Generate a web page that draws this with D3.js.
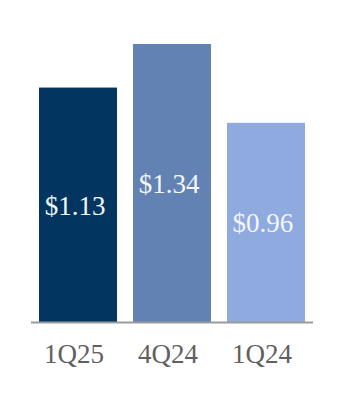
<!DOCTYPE html>
<html>
<head>
<meta charset="utf-8">
<script src="https://cdn.jsdelivr.net/npm/d3@7"></script>
<style>
  body { margin: 0; background: #fff; }
</style>
</head>
<body>
<div id="vis"></div>
<script>
// data
const quarters = ["1Q25", "4Q24", "1Q24"];
const values = [1.13, 1.34, 0.96];
const labels = ["$1.13", "$1.34", "$0.96"];
const colors = ["#02355f", "#6282b4", "#8eaade"];

const svg = d3.select("#vis")
    .append("svg")
    .attr("width", 342)
    .attr("height", 400);

const x = d3.scaleBand()
    .domain(quarters)
    .range([39, 305])
    .paddingInner(0.17)
    .paddingOuter(0);

const y = d3.scaleLinear()
    .domain([0, 1.34])
    .range([322, 44]);

// bars
svg.selectAll("rect.bar")
    .data(values)
    .enter()
    .append("rect")
    .attr("class", "bar")
    .attr("x", (d, i) => x(quarters[i]))
    .attr("y", d => y(d))
    .attr("width", x.bandwidth())
    .attr("height", d => y(0) - y(d))
    .attr("fill", (d, i) => colors[i]);

// value labels in the middle of each bar
svg.selectAll("text.val")
    .data(values)
    .enter()
    .append("text")
    .attr("class", "val")
    .attr("x", (d, i) => x(quarters[i]) + x.bandwidth() / 2 - 3)
    .attr("y", d => (y(d) + y(0)) / 2 + 10)
    .attr("text-anchor", "middle")
    .style("font-family", "'Liberation Serif', 'Times New Roman', serif")
    .style("font-size", "27px")
    .style("fill", "#f4f6fa")
    .text((d, i) => labels[i]);

// baseline
svg.append("line")
    .attr("x1", 31)
    .attr("x2", 313)
    .attr("y1", y(0) + 0.5)
    .attr("y2", y(0) + 0.5)
    .style("stroke", "#9a9a9a")
    .style("stroke-width", 2);

// category labels
svg.selectAll("text.cat")
    .data(quarters)
    .enter()
    .append("text")
    .attr("class", "cat")
    .attr("x", d => x(d) + x.bandwidth() / 2 - 4)
    .attr("y", 363)
    .attr("text-anchor", "middle")
    .style("font-family", "'Liberation Serif', 'Times New Roman', serif")
    .style("font-size", "27px")
    .style("fill", "#606060")
    .text(d => d);
</script>
</body>
</html>
